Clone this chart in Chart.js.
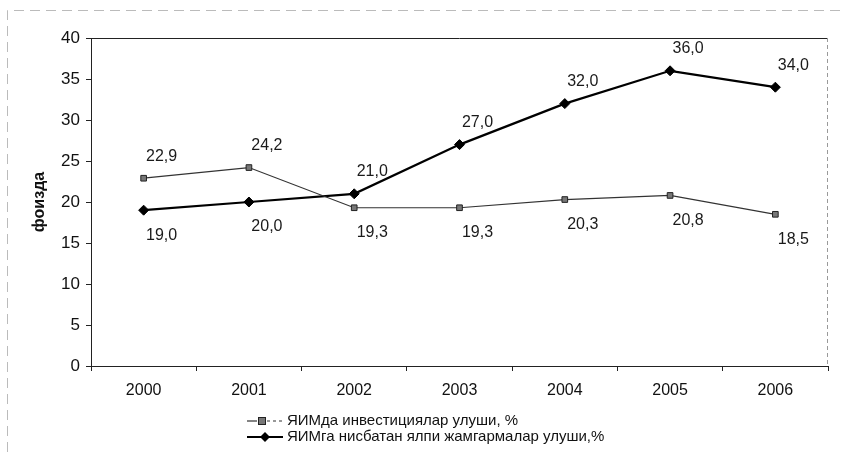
<!DOCTYPE html>
<html lang="uz">
<head>
    <meta charset="UTF-8">
    <title>ЯИМда инвестициялар ва жамгармалар улуши</title>
    <script src="https://cdn.jsdelivr.net/npm/chart.js"></script>
    <style>
        body {
            margin: 0;
            padding: 0;
            background-color: #ffffff;
        }
        #chartBox {
            width: 861px;
            height: 452px;
        }
    </style>
</head>
<body>
    <div id="chartBox">
        <canvas id="shareChart" width="861" height="452"></canvas>
    </div>

    <script>
        // Data
        const years = ['2000', '2001', '2002', '2003', '2004', '2005', '2006'];
        const investShare = [22.9, 24.2, 19.3, 19.3, 20.3, 20.8, 18.5];
        const savingsShare = [19.0, 20.0, 21.0, 27.0, 32.0, 36.0, 34.0];
        const seriesNames = ['ЯИМда инвестициялар улуши, %', 'ЯИМга нисбатан ялпи жамгармалар улуши,%'];
        const yAxisTitle = 'фоизда';

        const FONT = '"Liberation Sans", Arial, sans-serif';
        const fmt = v => v.toFixed(1).replace('.', ',');

        // value labels: the higher series at a year gets its label above, the lower one below
        const valueLabels = {
            id: 'valueLabels',
            afterDatasetsDraw(chart) {
                const ctx = chart.ctx;
                const sets = chart.data.datasets;
                ctx.save();
                ctx.font = '16px ' + FONT;
                ctx.fillStyle = '#1a1a1a';
                ctx.textAlign = 'center';
                ctx.textBaseline = 'middle';
                sets.forEach((ds, i) => {
                    const meta = chart.getDatasetMeta(i);
                    const other = sets[1 - i].data;
                    meta.data.forEach((pt, j) => {
                        const above = ds.data[j] >= other[j];
                        ctx.fillText(fmt(ds.data[j]), pt.x + 18, pt.y + (above ? -22 : 25));
                    });
                });
                ctx.restore();
            }
        };

        // plot box, faint outer frame and the legend under the axis
        const frameAndLegend = {
            id: 'frameAndLegend',
            beforeDatasetsDraw(chart) {
                const {ctx, chartArea: a} = chart;
                ctx.save();
                ctx.strokeStyle = '#222';
                ctx.lineWidth = 1;
                ctx.beginPath();
                ctx.moveTo(a.left, a.top + 0.5);
                ctx.lineTo(a.right, a.top + 0.5);
                ctx.stroke();
                ctx.strokeStyle = '#999';
                ctx.setLineDash([4, 3]);
                ctx.beginPath();
                ctx.moveTo(a.right - 0.5, a.top);
                ctx.lineTo(a.right - 0.5, a.bottom);
                ctx.stroke();
                // outer frame of the scanned page
                ctx.strokeStyle = '#bbb';
                ctx.setLineDash([10, 6]);
                ctx.beginPath();
                ctx.moveTo(7.5, 452);
                ctx.lineTo(7.5, 10.5);
                ctx.lineTo(845, 10.5);
                ctx.stroke();
                ctx.restore();
            },
            afterDraw(chart) {
                const ctx = chart.ctx;
                const sets = chart.data.datasets;
                const x0 = 247, rows = [421, 437];
                ctx.save();
                ctx.font = '15px ' + FONT;
                ctx.textBaseline = 'middle';
                ctx.textAlign = 'left';
                sets.forEach((ds, i) => {
                    const y = rows[i];
                    ctx.strokeStyle = ds.borderColor;
                    ctx.lineWidth = ds.borderWidth;
                    ctx.beginPath();
                    if (i === 0) {
                        ctx.moveTo(x0, y);
                        ctx.lineTo(x0 + 10, y);
                        ctx.stroke();
                        ctx.setLineDash([3, 3]);
                        ctx.beginPath();
                        ctx.moveTo(x0 + 20, y);
                        ctx.lineTo(x0 + 36, y);
                        ctx.stroke();
                        ctx.setLineDash([]);
                    } else {
                        ctx.moveTo(x0, y);
                        ctx.lineTo(x0 + 36, y);
                        ctx.stroke();
                    }
                    ctx.fillStyle = ds.pointBackgroundColor;
                    ctx.strokeStyle = ds.pointBorderColor;
                    ctx.lineWidth = 1;
                    if (ds.pointStyle === 'rect') {
                        ctx.fillRect(x0 + 11.5, y - 3.5, 7, 7);
                        ctx.strokeRect(x0 + 11.5, y - 3.5, 7, 7);
                    } else {
                        ctx.beginPath();
                        ctx.moveTo(x0 + 18, y - 5);
                        ctx.lineTo(x0 + 23, y);
                        ctx.lineTo(x0 + 18, y + 5);
                        ctx.lineTo(x0 + 13, y);
                        ctx.closePath();
                        ctx.fill();
                    }
                    ctx.fillStyle = '#111';
                    ctx.fillText(ds.label, x0 + 40, y);
                });
                ctx.restore();
            }
        };

        const ctx = document.getElementById('shareChart').getContext('2d');
        new Chart(ctx, {
            type: 'line',
            data: {
                labels: years,
                datasets: [
                    {
                        label: seriesNames[0],
                        data: investShare,
                        borderColor: '#333',
                        borderWidth: 1.2,
                        pointStyle: 'rect',
                        pointRadius: 4,
                        pointBackgroundColor: '#777',
                        pointBorderColor: '#222',
                        pointBorderWidth: 1,
                        tension: 0
                    },
                    {
                        label: seriesNames[1],
                        data: savingsShare,
                        borderColor: '#000',
                        borderWidth: 2.2,
                        pointStyle: 'rectRot',
                        pointRadius: 5,
                        pointBackgroundColor: '#000',
                        pointBorderColor: '#000',
                        pointBorderWidth: 1,
                        tension: 0
                    }
                ]
            },
            options: {
                responsive: false,
                animation: false,
                layout: {
                    padding: { top: 38, right: 33, left: 0, bottom: 0 }
                },
                plugins: {
                    legend: { display: false },
                    tooltip: { enabled: false }
                },
                scales: {
                    x: {
                        offset: true,
                        afterFit: s => { s.height = 86; },
                        grid: {
                            offset: true,
                            drawOnChartArea: false,
                            tickLength: 5,
                            color: '#222'
                        },
                        border: { color: '#222', width: 1 },
                        ticks: {
                            color: '#111',
                            padding: 10,
                            font: { family: FONT, size: 16 }
                        }
                    },
                    y: {
                        min: 0,
                        max: 40,
                        afterFit: s => { s.width = 91; },
                        grid: {
                            drawOnChartArea: false,
                            tickLength: 5,
                            color: '#222'
                        },
                        border: { color: '#222', width: 1 },
                        ticks: {
                            stepSize: 5,
                            color: '#111',
                            padding: 6,
                            font: { family: FONT, size: 17 }
                        },
                        title: {
                            display: true,
                            text: yAxisTitle,
                            color: '#111',
                            padding: { top: 30, bottom: 0 },
                            font: { family: FONT, size: 16, weight: 'bold' }
                        }
                    }
                }
            },
            plugins: [frameAndLegend, valueLabels]
        });
    </script>
</body>
</html>
